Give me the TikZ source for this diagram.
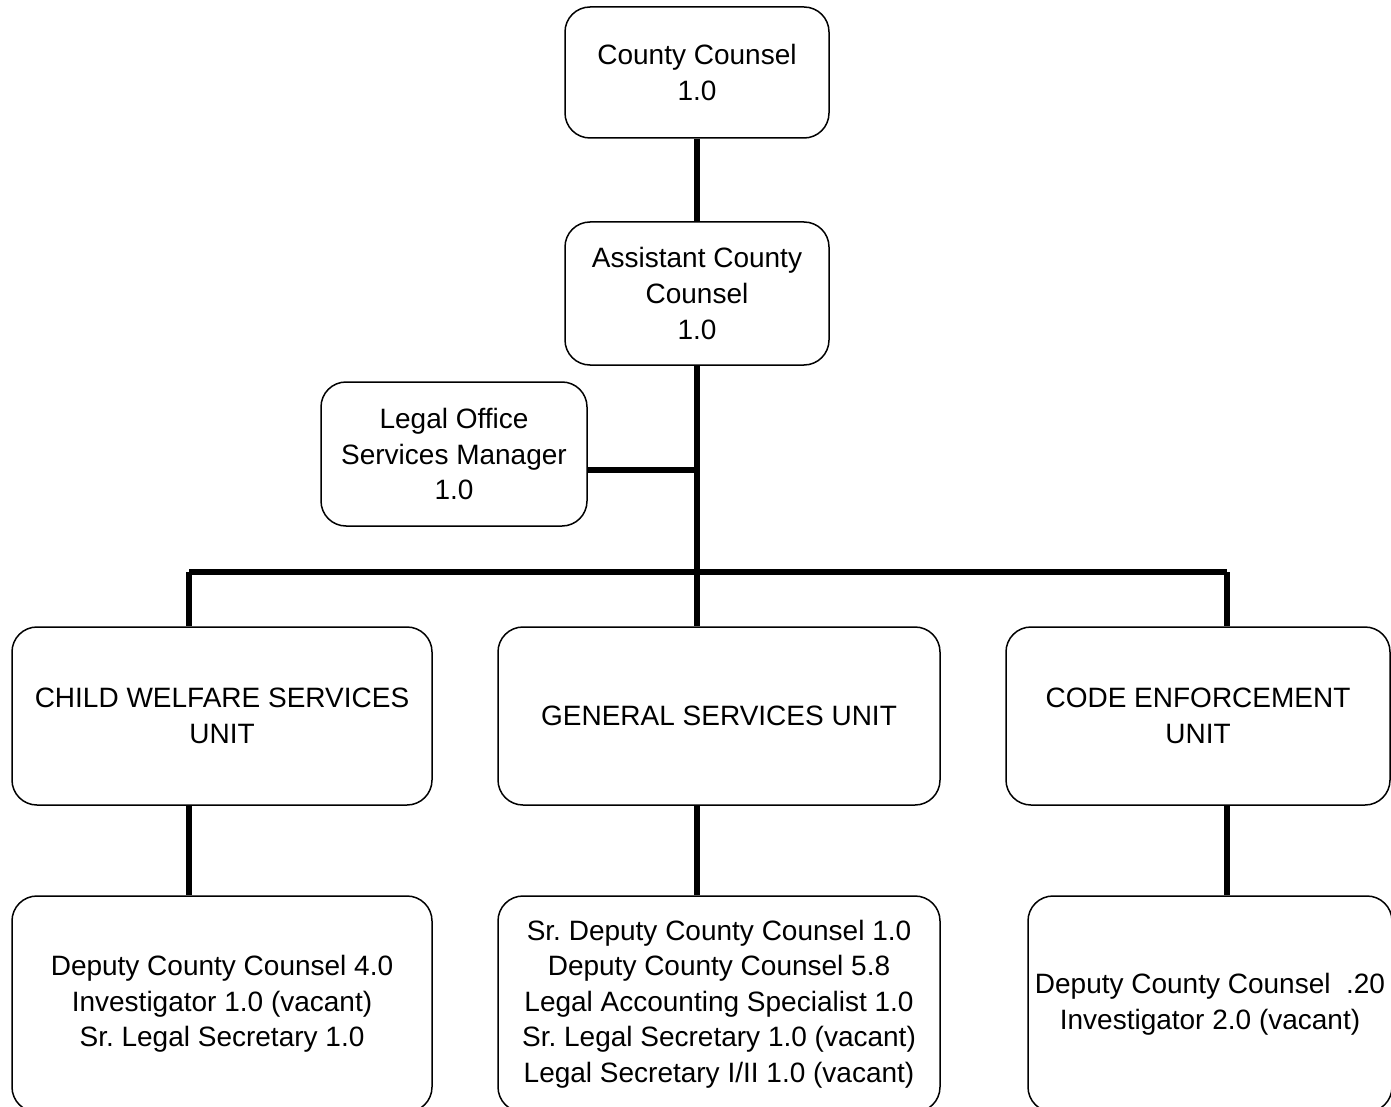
\documentclass[tikz,border=0pt]{standalone}
\usepackage{fontspec}
\setmainfont{Liberation Sans}
\usetikzlibrary{calc, positioning}
\def\lw{2.75pt}
\def\rc{12.5pt}
\tikzset{
    border/.style = {
        draw, rectangle, rounded corners=\rc, line width=0.75pt, inner sep=1pt,
        font=\fontsize{14pt}{17.8pt}\selectfont
    },
    pics/Component/.style ={
        code = {
            \node [border, align=center](-edge){#1};
    }}
    }
\tikzset{
    headbox/.style = {minimum width=132pt, minimum height=#1},
    unitbox/.style = {minimum width=#1, minimum height=89pt},
    staffbox/.style = {minimum width=#1, minimum height=108pt}
    }

\begin{document}
\begin{tikzpicture}[x=0.5pt, y=-0.5pt]
        \useasboundingbox (0,0) rectangle (1391,1107);
        \clip (0,0) rectangle (1391,1107);
        % Place the blocks
        \pic[headbox=65.5pt] (cc) at (697,72.5) {Component={County Counsel\\1.0}};
        \pic[headbox=71.5pt] (acc) at (697,293.5) {Component={Assistant County\\Counsel\\1.0}};
        \pic[headbox=72pt, minimum width=133pt] (los) at (454,454) {Component={Legal Office\\Services Manager\\1.0}};
        \pic[unitbox=210pt] (cw) at (222,716) {Component={CHILD WELFARE SERVICES\\UNIT}};
        \pic[unitbox=221pt] (gs) at (719,716) {Component={GENERAL SERVICES UNIT}};
        \pic[unitbox=192pt] (ce) at (1198,716) {Component={CODE ENFORCEMENT\\UNIT}};
        \pic[staffbox=210pt] (cws) at (222,1004) {Component={Deputy County Counsel 4.0\\Investigator 1.0 (vacant)\\Sr.\ Legal Secretary 1.0}};
        \pic[staffbox=221pt] (gss) at (719,1004) {Component={Sr.\ Deputy County Counsel 1.0\\Deputy County Counsel 5.8\\Legal Accounting Specialist 1.0\\Sr.\ Legal Secretary 1.0 (vacant)\\Legal Secretary I/II 1.0 (vacant)}};
        \pic[staffbox=182pt] (ces) at (1210,1004) {Component={Deputy County Counsel\ \ .20\\Investigator 2.0 (vacant)}};
        % taps on the trunk
        \coordinate (lostap) at (697,470);
        \coordinate (cwtap) at (189,572);
        \coordinate (gstap) at (697,572);
        \coordinate (cetap) at (1227,572);
        \begin{scope}[line width=\lw]
            \draw (cc-edge.south) -- (acc-edge.north);
            \draw (acc-edge.south) -- (gstap);
            \draw (lostap) -- (lostap -| los-edge.east);
            \draw (cwtap) -- (cetap);
            \draw (cwtap) -- (cwtap |- cw-edge.north);
            \draw (gstap) -- (gstap |- gs-edge.north);
            \draw (cetap) -- (cetap |- ce-edge.north);
            \draw (cw-edge.south -| cwtap) -- (cws-edge.north -| cwtap);
            \draw (gs-edge.south -| gstap) -- (gss-edge.north -| gstap);
            \draw (ce-edge.south -| cetap) -- (ces-edge.north -| cetap);
        \end{scope}
    \end{tikzpicture}
\end{document}
